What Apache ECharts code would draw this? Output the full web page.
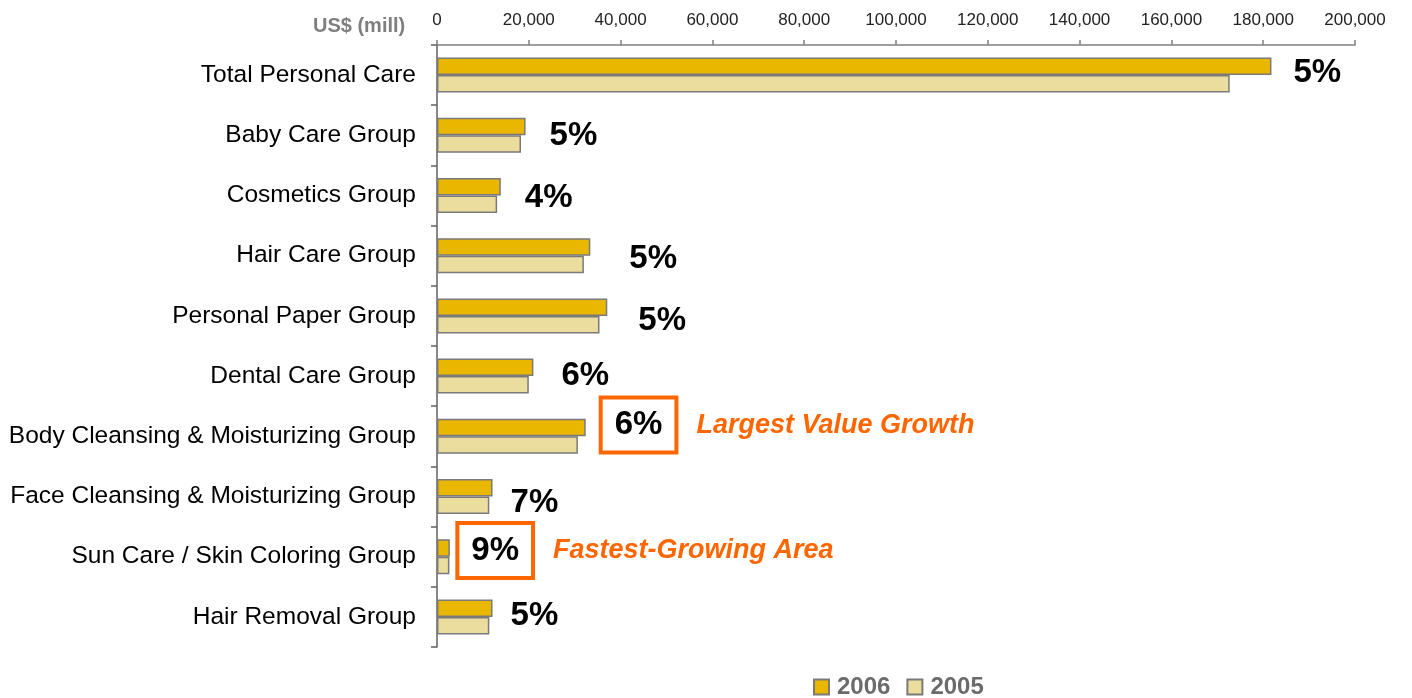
<!DOCTYPE html>
<html>
<head>
<meta charset="utf-8">
<title>Personal Care market size</title>
<script src="https://cdn.jsdelivr.net/npm/echarts@6/dist/echarts.min.js"></script>
<style>
  html, body { margin: 0; padding: 0; background: #fff; }
  #chart { width: 1412px; height: 698px; }
</style>
</head>
<body>
<div id="chart"></div>
<script>
const categories = [
  'Total Personal Care',
  'Baby Care Group',
  'Cosmetics Group',
  'Hair Care Group',
  'Personal Paper Group',
  'Dental Care Group',
  'Body Cleansing & Moisturizing Group',
  'Face Cleansing & Moisturizing Group',
  'Sun Care / Skin Coloring Group',
  'Hair Removal Group'
]
const values2006 = [181800, 19300, 13900, 33400, 37100, 21000, 32400, 12100, 2800, 12100]
const values2005 = [172700, 18300, 13100, 32000, 35400, 20000, 30700, 11400, 2700, 11400]
const growth = ['5%', '5%', '4%', '5%', '5%', '6%', '6%', '7%', '9%', '5%']
const notes = ['', '', '', '', '', '', 'Largest Value Growth', '', 'Fastest-Growing Area', '']
const xTicks = [0, 200000, 20000] // min, max, interval

// hand-tuned label nudges so the growth figures sit where the original put them
const labelShift = [
  [22, 6.5], [24, 9.5], [24, 11.5], [39, 12], [31, 13.5],
  [28, 8.5], [17, -2.5], [18, 15], [9.5, 2.5], [18, 8]
]

const FONT = '"Liberation Sans", Arial, sans-serif'
const ORANGE = '#FF6600'

const chart = echarts.init(document.getElementById('chart'))

const data2006 = values2006.map((v, i) => {
  const hasNote = notes[i] !== ''
  return {
    value: v,
    label: {
      show: true,
      position: 'right',
      distance: 0,
      offset: labelShift[i],
      formatter: hasNote ? `{box|${growth[i]}}{note|${notes[i]}}` : `{plain|${growth[i]}}`
    }
  }
})

const option = {
  animation: false,
  textStyle: { fontFamily: FONT },
  grid: {
    left: 437,
    right: 57,
    top: 45,
    bottom: 51
  },
  xAxis: {
    type: 'value',
    position: 'top',
    min: xTicks[0],
    max: xTicks[1],
    interval: xTicks[2],
    splitLine: { show: false },
    axisLine: { show: true, lineStyle: { color: '#808080', width: 1.5 } },
    axisTick: { show: true, length: 5, lineStyle: { color: '#808080', width: 1.5 } },
    axisLabel: {
      margin: 16,
      fontSize: 17,
      color: '#222',
      fontFamily: FONT,
      formatter: (v) => v.toLocaleString('en-US')
    }
  },
  yAxis: {
    type: 'category',
    inverse: true,
    data: categories,
    axisLine: { show: true, lineStyle: { color: '#606060', width: 1.5 } },
    axisTick: { show: true, length: 6, lineStyle: { color: '#606060', width: 1.5 } },
    axisLabel: {
      margin: 21,
      fontSize: 24.5,
      color: '#000',
      fontFamily: FONT
    }
  },
  legend: {
    left: 813,
    top: 675,
    padding: 0,
    itemWidth: 15,
    itemHeight: 15,
    itemGap: 16,
    icon: 'rect',
    data: ['2006', '2005'],
    textStyle: {
      fontSize: 24,
      fontWeight: 'bold',
      color: '#6b6b6b',
      fontFamily: FONT,
      padding: [0, 0, 0, 3]
    }
  },
  graphic: [
    {
      type: 'text',
      left: 313,
      top: 16,
      style: {
        text: 'US$ (mill)',
        fontSize: 20,
        fontWeight: 'bold',
        fill: '#7f7f7f',
        fontFamily: FONT
      }
    }
  ],
  series: [
    {
      name: '2006',
      type: 'bar',
      barWidth: 17.5,
      barGap: '0%',
      itemStyle: { color: '#EAB700', borderColor: '#7a7a7a', borderWidth: 1.5 },
      label: {
        rich: {
          plain: {
            fontSize: 33,
            fontWeight: 'bold',
            color: '#000',
            fontFamily: FONT,
            verticalAlign: 'middle'
          },
          box: {
            fontSize: 33,
            fontWeight: 'bold',
            color: '#000',
            fontFamily: FONT,
            borderColor: ORANGE,
            borderWidth: 4,
            backgroundColor: '#fff',
            padding: [9, 12, 9, 12],
            verticalAlign: 'middle'
          },
          note: {
            fontSize: 27,
            fontWeight: 'bold',
            fontStyle: 'italic',
            color: ORANGE,
            fontFamily: FONT,
            padding: [0, 0, 0, 22],
            verticalAlign: 'middle'
          }
        }
      },
      data: data2006
    },
    {
      name: '2005',
      type: 'bar',
      barWidth: 17.5,
      barGap: '0%',
      itemStyle: { color: '#EBDD9E', borderColor: '#7a7a7a', borderWidth: 1.5 },
      data: values2005
    }
  ]
}

chart.setOption(option)
</script>
</body>
</html>
